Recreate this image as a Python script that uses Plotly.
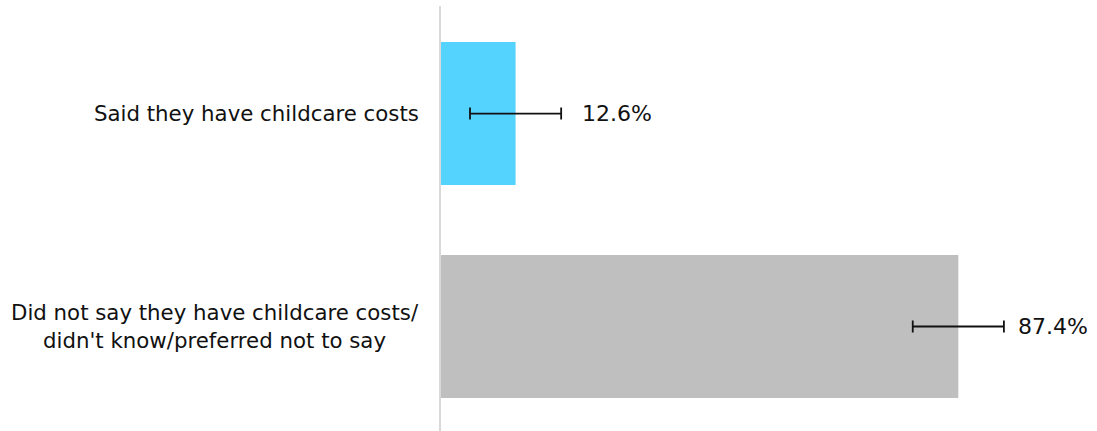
import plotly.graph_objects as go

categories = ["Said they have childcare costs",
              "Did not say they have childcare costs/<br>didn't know/preferred not to say"]
values = [12.6, 87.4]
errors = [7.7, 7.7]
labels = ["12.6%", "87.4%"]
colors = ["#55D3FF", "#BFBFBF"]

label_shift = [19, 12]

fig = go.Figure()
fig.add_trace(go.Bar(
    y=categories, x=values, orientation="h",
    marker=dict(color=colors, line=dict(width=0)),
    width=0.671,
    error_x=dict(type="data", array=errors, visible=True,
                 color="#111111", thickness=1.8, width=6),
    hoverinfo="skip",
))

for c, v, e, t, s in zip(categories, values, errors, labels, label_shift):
    fig.add_annotation(x=v + e, y=c, text=t, showarrow=False,
                       xanchor="left", yanchor="middle", xshift=s,
                       font=dict(family="DejaVu Sans", size=22, color="#111111"))
    # category labels, centred multi-line like the original
    fig.add_annotation(x=0, xref="paper", y=c, text=c, showarrow=False,
                       xanchor="right", yanchor="middle", xshift=-20,
                       align="center",
                       font=dict(family="DejaVu Sans", size=21.3, color="#111111"))

fig.update_layout(
    width=1097, height=431,
    margin=dict(l=441, r=0, t=6, b=0),
    plot_bgcolor="white", paper_bgcolor="white",
    showlegend=False,
    font=dict(family="DejaVu Sans", size=21, color="#111111"),
    xaxis=dict(range=[0, 656 / 5.919], showgrid=False, zeroline=False,
               showticklabels=False, showline=False, fixedrange=True),
    yaxis=dict(range=[1.4906, -0.505], showgrid=False, zeroline=False,
               showline=True, linecolor="#d9d9d9", linewidth=2,
               showticklabels=False, ticks="", fixedrange=True),
)

fig.write_html("out.html", config={"displayModeBar": False},
               post_script="document.body.style.margin='0';document.body.style.padding='0';")
